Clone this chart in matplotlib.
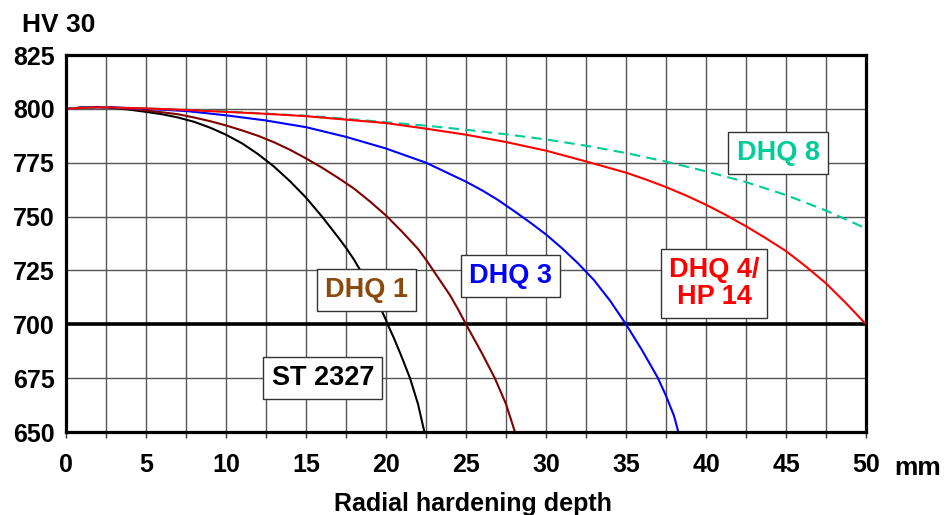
import matplotlib
matplotlib.use('Agg')
import matplotlib.pyplot as plt
from matplotlib.ticker import MultipleLocator

plt.rcParams['font.family'] = ['Liberation Sans', 'DejaVu Sans']
plt.rcParams['font.weight'] = 'bold'

# ── data ─────────────────────────────────────────────────────────────────
st_x = [0, 1, 2, 3, 4, 5, 6, 7, 8, 9, 10, 11, 12, 13, 14, 15, 16, 17, 17.5,
        18, 18.4, 19, 19.5, 20, 20.1, 20.5, 21, 21.5, 22, 22.4]
st_y = [800, 800.6, 800.8, 800.4, 799.6, 798.6, 797.5, 796, 794, 791.3, 788, 784, 779, 773.2, 766.4,
        758.8, 750, 740.5, 735.5, 730, 725, 717, 710, 702, 700, 693.5, 684.5, 675, 663, 650]

dhq1_x = [0, 1, 2, 3, 4, 5, 6, 7, 8, 9, 10, 11, 12, 13, 14, 15, 16, 17, 18, 19, 20, 21, 22,
          22.5, 23, 23.5, 24, 24.5, 25, 26, 26.8, 27.5, 28.06]
dhq1_y = [800, 800.6, 800.9, 800.6, 800, 799.2, 798.4, 797.5, 796, 794.3, 792.3, 790, 787.5,
          784.5, 781, 777, 772.7, 768, 763, 757, 750.5, 743, 735, 730, 724.5, 719, 713.5, 707,
          700, 686.5, 675, 663, 650]

dhq3_x = [0, 1, 2, 3, 5, 7.5, 10, 12.5, 15, 17.5, 20, 22.5, 25, 26, 27, 28, 29, 30, 31, 32, 33,
          34, 35, 36, 37, 37.5, 38, 38.27]
dhq3_y = [800, 800.6, 800.8, 800.6, 800, 799, 797, 794.6, 791.5, 787, 781.6, 775, 766.2, 762.2,
          757.7, 752.6, 747.3, 741.7, 735.3, 728.3, 720.5, 711, 700, 688, 675, 666.8, 657.5, 650]

dhq4_x = [0, 1, 2, 3, 4, 5, 7.5, 10, 12.5, 15, 17.5, 20, 22.5, 25, 27.5, 30, 32.5, 35, 36.25,
          37.5, 38.75, 40, 41.25, 42.5, 43.75, 45, 46.25, 47.5, 48.75, 50]
dhq4_y = [800, 800.5, 800.7, 800.6, 800.4, 800.2, 799.5, 798.6, 797.7, 796.6, 795, 793.4, 790.8,
          788, 784.6, 780.6, 775.6, 770.4, 767.2, 763.7, 759.8, 755.5, 750.7, 745.5, 739.9, 734,
          726.8, 719, 709.8, 700]

dhq8_x = [0, 1, 2, 3, 5, 7.5, 10, 12.5, 15, 17.5, 20, 22.5, 25, 27.5, 30, 32.5, 35, 37.5, 40,
          42.5, 45, 47.5, 50]
dhq8_y = [800, 800.5, 800.7, 800.6, 800.2, 799.6, 798.8, 797.8, 796.8, 795.4, 793.8, 792.2,
          790.3, 788.2, 785.8, 782.9, 779.5, 775.5, 771, 766, 760, 752.8, 744.5]

x_ticks = [0, 5, 10, 15, 20, 25, 30, 35, 40, 45, 50]
y_ticks = [650, 675, 700, 725, 750, 775, 800, 825]

# label text, anchor (x, y) in data units, colour
labels = [
    ('ST 2327', 16.05, 675, 'black'),
    ('DHQ 1', 18.8, 716, '#8c4a0c'),
    ('DHQ 3', 27.8, 722.5, '#0000ff'),
    ('DHQ 4/\nHP 14', 40.5, 719, '#ff0000'),
    ('DHQ 8', 44.5, 779.5, '#00cc99'),
]

fig = plt.figure(figsize=(9.49, 5.15), dpi=100)
ax = fig.add_axes([66 / 949, 1 - 432 / 515, 800 / 949, 377 / 515])

ax.set_xlim(0, 50)
ax.set_ylim(650, 825)

# grid
ax.xaxis.set_major_locator(MultipleLocator(5))
ax.xaxis.set_minor_locator(MultipleLocator(2.5))
ax.set_yticks(y_ticks)
ax.grid(True, which='both', axis='x', color='#555555', lw=1.0)
ax.grid(True, which='major', axis='y', color='#555555', lw=1.0)
ax.set_axisbelow(True)

ax.axhline(700, color='black', lw=2.6, zorder=3)

ax.plot(st_x, st_y, color='black', lw=1.5, zorder=4)
ax.plot(dhq1_x, dhq1_y, color='#800000', lw=1.5, zorder=4)
ax.plot(dhq3_x, dhq3_y, color='#0000ff', lw=1.5, zorder=4)
ax.plot(dhq8_x, dhq8_y, color='#00cc99', lw=1.5, dashes=(5, 3), zorder=4)
ax.plot(dhq4_x, dhq4_y, color='#ff0000', lw=1.5, zorder=5, clip_on=False)

for txt, lx, ly, col in labels:
    ax.text(lx, ly, txt, color=col, fontsize=19.5, fontweight='bold',
            ha='center', va='center', linespacing=1.05, zorder=6,
            bbox=dict(boxstyle='square,pad=0.3', fc='white', ec='#333333', lw=1.0))

# spines and ticks
for s in ax.spines.values():
    s.set_linewidth(2.3)
    s.set_color('black')
    s.set_zorder(7)

ax.set_xticks(x_ticks)
ax.set_xticklabels([str(v) for v in x_ticks])
ax.set_yticklabels([str(v) for v in y_ticks])
ax.tick_params(axis='x', which='both', direction='out', length=4, width=1,
               color='#333333', pad=11, labelsize=18)
ax.tick_params(axis='y', which='both', length=0, pad=8, labelsize=18)

fig.text(894 / 949, 1 - 475 / 515, 'mm', fontsize=19, fontweight='bold',
         ha='left', va='baseline')
fig.text(22 / 949, 1 - 31.5 / 515, 'HV 30', fontsize=19, fontweight='bold',
         ha='left', va='baseline')
fig.text(473 / 949, 1 - 511 / 515, 'Radial hardening depth', fontsize=18,
         fontweight='bold', ha='center', va='baseline')

plt.savefig('out.png', dpi=100)
